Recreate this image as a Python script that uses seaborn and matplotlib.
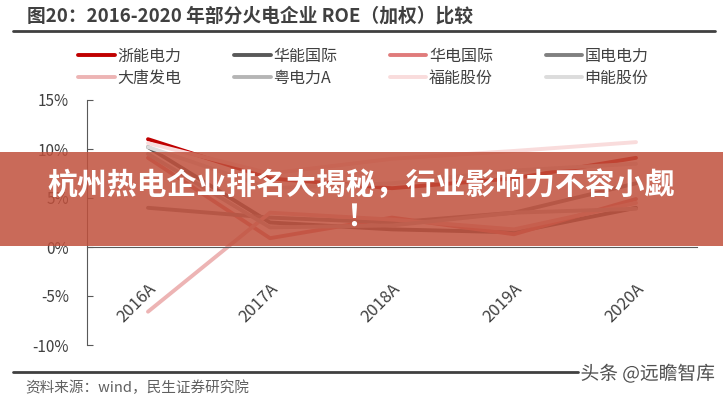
import pandas as pd
import numpy as np
import matplotlib
matplotlib.use("Agg")
import matplotlib.pyplot as plt
import matplotlib.patheffects as pe
from matplotlib.patches import Rectangle
import seaborn as sns

years = ["2016A", "2017A", "2018A", "2019A", "2020A"]

zheneng = [11.0, 7.0, 6.0, 7.0, 9.1]
huaneng = [10.2, 2.5, 1.8, 1.5, 4.0]
huadian = [9.1, 0.9, 3.0, 1.3, 4.9]
guodian = [4.0, 3.0, 2.5, 3.5, 6.5]
datang = [-6.6, 3.5, 2.8, 1.8, 4.5]
yuedian = [9.5, 2.0, 2.2, 3.5, 3.9]
funeng = [10.6, 7.5, 9.0, 9.8, 10.7]
shenneng = [10.2, 6.0, 6.5, 7.8, 8.5]

names = ["浙能电力", "华能国际", "华电国际", "国电电力", "大唐发电", "粤电力A", "福能股份", "申能股份"]
series = [zheneng, huaneng, huadian, guodian, datang, yuedian, funeng, shenneng]
colors = ["#C00000", "#595959", "#E07B7B", "#808080", "#EDB4B4", "#B5B5B5", "#F9DCDC", "#DCDCDC"]

rows = []
for name, vals in zip(names, series):
    for i, v in enumerate(vals):
        rows.append({"company": name, "pos": i, "roe": v})
df = pd.DataFrame(rows)

sns.set_style("white")
plt.rcParams["font.family"] = ["Noto Sans CJK SC", "DejaVu Sans"]
plt.rcParams["axes.unicode_minus"] = False

fig = plt.figure(figsize=(7.23, 4.0), dpi=100)
ax = fig.add_axes([87 / 723, 1 - 345 / 400, 610 / 723, 245 / 400])

sns.lineplot(data=df, x="pos", y="roe", hue="company", hue_order=names,
             palette=dict(zip(names, colors)), linewidth=2.8, ax=ax, legend=True)

handles, labels = ax.get_legend_handles_labels()
ax.get_legend().remove()
order = [0, 4, 1, 5, 2, 6, 3, 7]
fig.legend([handles[i] for i in order], [labels[i] for i in order],
           loc="upper left", bbox_to_anchor=(78 / 723, 1 - 48 / 400), ncol=4,
           frameon=False, fontsize=11.5, handlelength=2.3, handletextpad=0.15,
           columnspacing=3.3, labelspacing=0.3, borderpad=0, borderaxespad=0,
           labelcolor="#404040")

# spine position first: it resets the ticks
for s in ["top", "right"]:
    ax.spines[s].set_visible(False)
ax.spines["bottom"].set_position(("data", 0))
ax.spines["bottom"].set_color("#595959")
ax.spines["left"].set_color("#595959")
ax.spines["bottom"].set_linewidth(0.8)
ax.spines["left"].set_linewidth(0.8)

ax.set_xlim(-0.5, 4.5)
ax.set_ylim(-10, 15)
ax.set_yticks([-10, -5, 0, 5, 10, 15])
ax.set_yticklabels([f"{t}%" for t in [-10, -5, 0, 5, 10, 15]])
ax.set_xticks(range(len(years)))
ax.set_xticks(np.arange(-0.5, 5, 1), minor=True)
ax.tick_params(axis="x", which="major", length=0, pad=24, labelsize=12, labelcolor="#404040")
ax.tick_params(axis="x", which="minor", direction="in", length=4, color="#595959", width=0.8)
ax.tick_params(axis="y", direction="in", length=4, color="#595959", width=0.8,
               pad=13, labelsize=11, labelcolor="#404040", left=True)
ax.set_xticklabels(years, rotation=45, ha="right", rotation_mode="anchor")
ax.set_xlabel("")
ax.set_ylabel("")

fig.text(27 / 723, 1 - 16 / 400, "图20：2016-2020 年部分火电企业 ROE（加权）比较",
         fontsize=13.5, fontweight="bold", color="#404040", va="center", ha="left")
fig.add_artist(plt.Line2D([13 / 723, 715 / 723], [1 - 31 / 400, 1 - 31 / 400],
                          color="#404040", linewidth=2, transform=fig.transFigure))
fig.add_artist(plt.Line2D([13 / 723, 578 / 723], [1 - 372 / 400, 1 - 372 / 400],
                          color="#404040", linewidth=2, transform=fig.transFigure))
fig.text(25 / 723, 1 - 388 / 400, "资料来源：wind，民生证券研究院",
         fontsize=10.5, color="#606060", va="center", ha="left")
fig.text(715 / 723, 1 - 374 / 400, "头条 @远瞻智库", fontsize=13.5, color="#505050",
         va="center", ha="right", zorder=10,
         path_effects=[pe.withStroke(linewidth=2, foreground="white")])

# red banner across the chart
fig.add_artist(Rectangle((0, 1 - 246 / 400), 1, 94 / 400, transform=fig.transFigure,
                         facecolor="#C0503C", alpha=0.85, edgecolor="none", zorder=5))
fig.text(0.5, 1 - 185 / 400, "杭州热电企业排名大揭秘，行业影响力不容小觑",
         fontsize=21.5, fontweight="bold", color="white", ha="center", va="center", zorder=6)
fig.text(0.5, 1 - 217 / 400, "！", fontsize=21.5, fontweight="bold", color="white",
         ha="center", va="center", zorder=6)

fig.savefig("out.png", dpi=100)
